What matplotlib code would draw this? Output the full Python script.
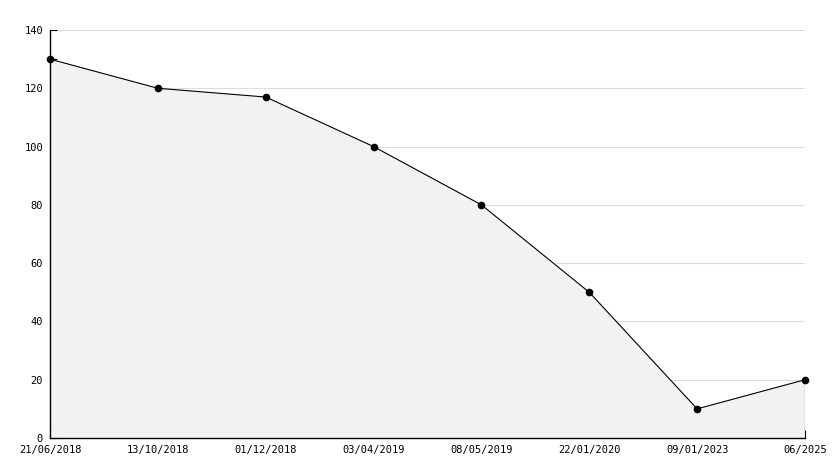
import matplotlib
matplotlib.use('Agg')
import matplotlib.pyplot as plt
from matplotlib.ticker import MultipleLocator

#dados
datas = ['21/06/2018', '13/10/2018', '01/12/2018', '03/04/2019',
         '08/05/2019', '22/01/2020', '09/01/2023', '06/2025']
valores = [130, 120, 117, 100, 80, 50, 10, 20]

x = list(range(len(datas)))

fig = plt.figure(figsize=(8.34, 4.68), dpi=100)
ax = fig.add_axes([50/834, 30/468, 755/834, 408/468])

#area preenchida
ax.fill_between(x, valores, 0, facecolor='#f2f2f2', edgecolor='none', zorder=1)
ax.vlines(x[-1], 0, valores[-1], color='black', linewidth=0.8, zorder=3)

#linha com marcadores
ax.plot(x, valores, color='black', linewidth=0.8, marker='o', markersize=4.5,
        zorder=4, clip_on=False)

ax.set_xlim(0, len(datas) - 1)
ax.set_ylim(0, 140)

ax.yaxis.set_major_locator(MultipleLocator(20))
ax.yaxis.set_minor_locator(MultipleLocator(10))
ax.set_xticks(x)
ax.set_xticklabels(datas)

ax.grid(axis='y', color='#dcdcdc', linewidth=0.8, zorder=0)
ax.set_axisbelow(True)

for s in ['top', 'right']:
    ax.spines[s].set_visible(False)
for s in ['left', 'bottom']:
    ax.spines[s].set_linewidth(1.0)

ax.tick_params(axis='y', which='both', direction='in', length=5, width=0.8,
               pad=5, labelsize=7.5)
ax.tick_params(axis='x', direction='in', length=6, width=0.8, pad=5, labelsize=7.5)
for lbl in ax.get_xticklabels() + ax.get_yticklabels():
    lbl.set_family('DejaVu Sans Mono')

fig.savefig('out.png', dpi=100)
